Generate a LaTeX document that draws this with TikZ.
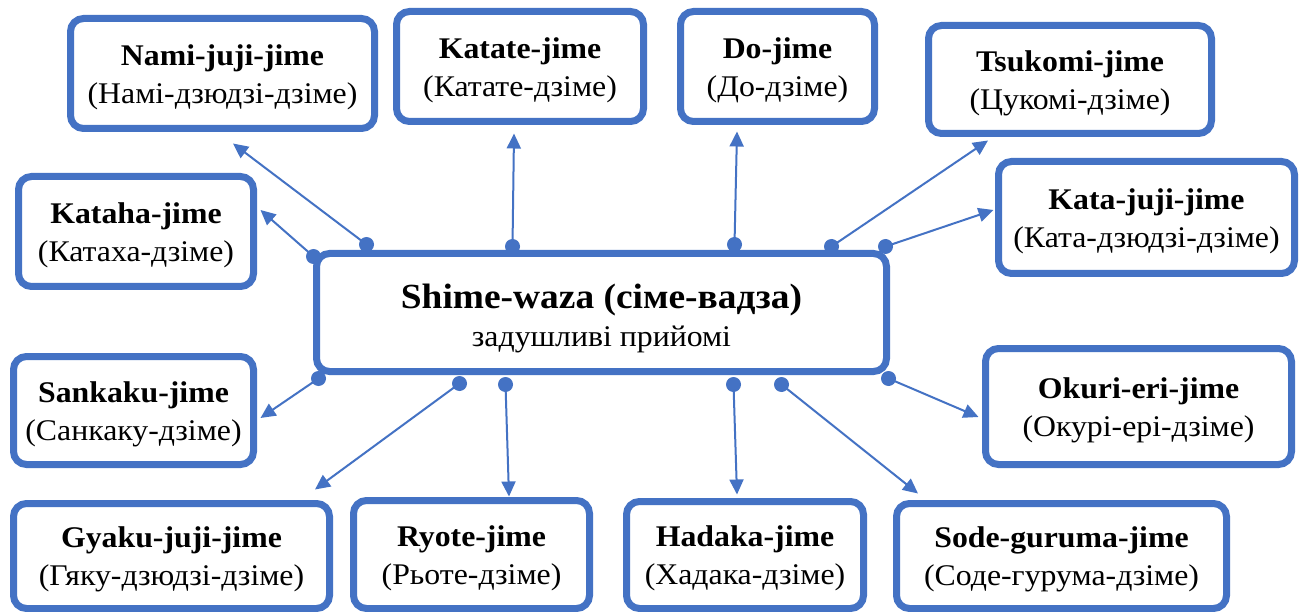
\documentclass[tikz,border=0pt]{standalone}
\usepackage{fontspec}
\setmainfont{Liberation Serif}[FakeStretch=1.06]
\usetikzlibrary{arrows.meta,calc}
\definecolor{boxblue}{RGB}{68,114,196}
% two-line label: bold name over the Ukrainian reading
\newcommand{\techlabel}[2]{\rule{0pt}{27.7pt}\textbf{#1}\\#2}
\begin{document}
\begin{tikzpicture}[x=1pt,y=-1pt,
  box/.style={draw=boxblue, line width=7pt, rounded corners=13pt, fill=white,
    align=center, inner sep=0pt, font=\fontsize{30}{38}\selectfont},
  link/.style={draw=boxblue, line width=2pt, -{Triangle[length=15pt,width=14pt]}},
  knot/.style={fill=boxblue, draw=none}
]
\fill[white] (0,0) rectangle (1306,612);
\useasboundingbox (0,0) rectangle (1306,612);

% centre box
\node[box, minimum width=570pt, minimum height=118pt] (c) at (601.5,312.5)
  {\rule{0pt}{36.4pt}{\bfseries\fontsize{35.3}{39}\selectfont Shime-waza (сіме-вадза)}\\задушливі прийомі};

% technique boxes
\node[box, minimum width=304pt, minimum height=110pt] (nami) at (222.5,73.5)
  {\techlabel{Nami-juji-jime}{(Намі-дзюдзі-дзіме)}};
\node[box, minimum width=247pt, minimum height=110pt] (katate) at (520,66.5)
  {\techlabel{Katate-jime}{(Катате-дзіме)}};
\node[box, minimum width=194pt, minimum height=110pt] (do) at (777.5,66.5)
  {\techlabel{Do-jime}{(До-дзіме)}};
\node[box, minimum width=283pt, minimum height=108pt] (tsukomi) at (1070,79.5)
  {\techlabel{Tsukomi-jime}{(Цукомі-дзіме)}};
\node[box, minimum width=296pt, minimum height=112pt] (katajuji) at (1146.5,217.5)
  {\techlabel{Kata-juji-jime}{(Ката-дзюдзі-дзіме)}};
\node[box, minimum width=235pt, minimum height=110pt] (kataha) at (136,231.5)
  {\techlabel{Kataha-jime}{(Катаха-дзіме)}};
\node[box, minimum width=240pt, minimum height=108pt] (sankaku) at (133.5,410.5)
  {\techlabel{Sankaku-jime}{(Санкаку-дзіме)}};
\node[box, minimum width=306pt, minimum height=116pt] (okuri) at (1138.5,406.5)
  {\techlabel{Okuri-eri-jime}{(Окурі-ері-дзіме)}};
\node[box, minimum width=316pt, minimum height=105pt] (gyaku) at (171.5,556)
  {\techlabel{Gyaku-juji-jime}{(Гяку-дзюдзі-дзіме)}};
\node[box, minimum width=236pt, minimum height=108pt] (ryote) at (471.5,554.5)
  {\techlabel{Ryote-jime}{(Рьоте-дзіме)}};
\node[box, minimum width=237pt, minimum height=107pt] (hadaka) at (745,555)
  {\techlabel{Hadaka-jime}{(Хадака-дзіме)}};
\node[box, minimum width=330pt, minimum height=105pt] (sode) at (1061.5,556)
  {\techlabel{Sode-guruma-jime}{(Соде-гурума-дзіме)}};

% start points on the centre box border
\coordinate (s1)  at ($(c.north west)+(53.5,-5.5)$);
\coordinate (s2)  at ($(c.north west)+(0.5,6.5)$);
\coordinate (s3)  at ($(c.north west)+(199.5,-3.5)$);
\coordinate (s4)  at ($(c.north west)+(421.5,-5.5)$);
\coordinate (s5)  at ($(c.north west)+(518.5,-3.5)$);
\coordinate (s6)  at ($(c.north east)+(-4.5,-3.5)$);
\coordinate (s7)  at ($(c.south west)+(5.5,3.5)$);
\coordinate (s8)  at ($(c.south west)+(146.5,8.5)$);
\coordinate (s9)  at ($(c.south west)+(192.5,9.5)$);
\coordinate (s10) at ($(c.south west)+(420.5,9.5)$);
\coordinate (s11) at ($(c.south west)+(468.5,9.5)$);
\coordinate (s12) at ($(c.south east)+(-1.5,3.5)$);

% arrows
\draw[link] (s1)  -- ($(nami.south)+(10.5,11.5)$);
\draw[link] (s2)  -- ($(kataha.east)+(3.5,-21.5)$);
\draw[link] (s3)  -- ($(katate.south)+(-6,8.5)$);
\draw[link] (s4)  -- ($(do.south)+(-40.5,6.5)$);
\draw[link] (s5)  -- ($(tsukomi.south)+(-82,3.5)$);
\draw[link] (s6)  -- ($(katajuji.west)+(-1.5,-7.5)$);
\draw[link] (s7)  -- ($(sankaku.east)+(3.5,7.5)$);
\draw[link] (s8)  -- ($(gyaku.north)+(143.5,-10.5)$);
\draw[link] (s9)  -- ($(ryote.north)+(37.5,-0.5)$);
\draw[link] (s10) -- ($(hadaka.north)+(-8,-3.5)$);
\draw[link] (s11) -- ($(sode.north)+(-143.5,-6.5)$);
\draw[link] (s12) -- ($(okuri.west)+(-3.5,10.5)$);

% round knots where the arrows leave the centre box
\foreach \p in {s1,s2,s3,s4,s5,s6,s7,s8,s9,s10,s11,s12}
  \fill[knot] (\p) circle (7.5pt);
\end{tikzpicture}
\end{document}
